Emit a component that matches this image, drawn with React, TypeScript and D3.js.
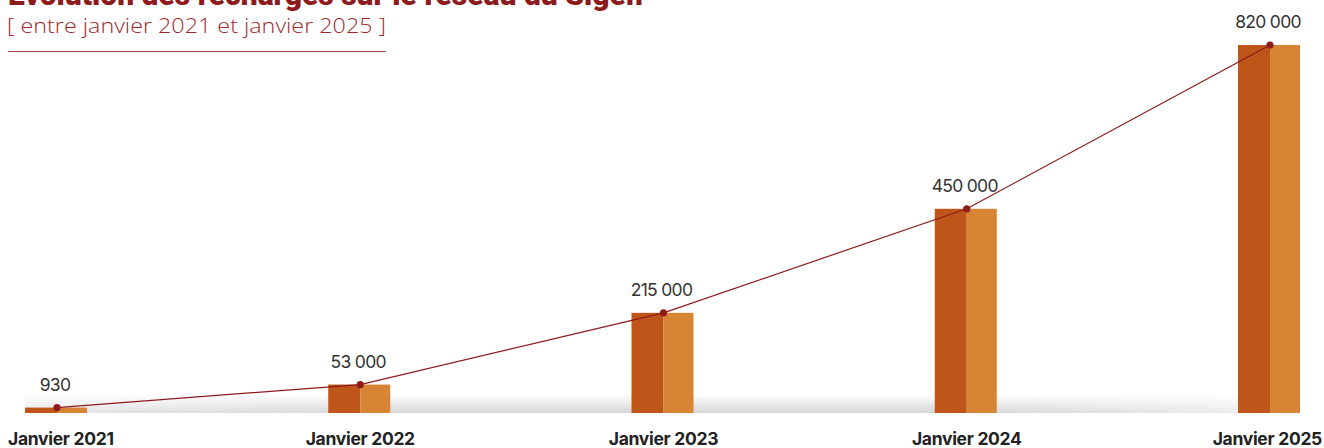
import React from "react";
import * as d3 from "d3";

const categories = ["Janvier 2021", "Janvier 2022", "Janvier 2023", "Janvier 2024", "Janvier 2025"];
const values = [930, 53000, 215000, 450000, 820000];
const valueLabels = ["930", "53 000", "215 000", "450 000", "820 000"];
const title = "Évolution des recharges sur le réseau du Sigeif";
const subtitle = "[ entre janvier 2021 et janvier 2025 ]";

const W = 1324;
const H = 448;
const baseline = 413;

export default function App() {
  const x = d3.scalePoint<string>().domain(categories).range([57, 1270]);
  const y = d3.scaleLinear().domain([0, 820000]).range([408, 45]);
  const barL = 32;
  const barR = 30;
  const pts: [number, number][] = categories.map((c, i) => [x(c) as number, y(values[i])]);
  const line = d3.line().curve(d3.curveLinear)(pts) || "";
  const red = "#8E1B1B";

  return (
    <svg width={W} height={H} style={{ position: "absolute", left: 0, top: 0, display: "block" }}>
      <defs>
        <linearGradient id="shadeV" x1="0" y1="0" x2="0" y2="1">
          <stop offset="0" stopColor="#ffffff" stopOpacity="0" />
          <stop offset="0.35" stopColor="#f4f4f4" stopOpacity="1" />
          <stop offset="1" stopColor="#d6d6d6" stopOpacity="1" />
        </linearGradient>
        <linearGradient id="maskH" x1="0" y1="0" x2="1" y2="0">
          <stop offset="0" stopColor="#fff" stopOpacity="0.6" />
          <stop offset="0.3" stopColor="#fff" stopOpacity="1" />
          <stop offset="0.75" stopColor="#fff" stopOpacity="1" />
          <stop offset="1" stopColor="#fff" stopOpacity="0.35" />
        </linearGradient>
        <mask id="fadeMask">
          <rect x={25} y={390} width={1274} height={24} fill="url(#maskH)" />
        </mask>
      </defs>
      <rect x={0} y={0} width={W} height={H} fill="#ffffff" />
      <text
        x={8}
        y={5}
        fill={red}
        fontFamily="Roboto, 'Liberation Sans', sans-serif"
        fontWeight={900}
        fontSize={29}
        textLength={637}
        lengthAdjust="spacingAndGlyphs"
      >
        {title}
      </text>
      <text
        x={7}
        y={33}
        fill="#A0282A"
        fontFamily="'Open Sans', Lato, sans-serif"
        fontWeight={300}
        fontSize={20}
        textLength={379}
        lengthAdjust="spacingAndGlyphs"
      >
        {subtitle}
      </text>
      <line x1={8} x2={386} y1={51.5} y2={51.5} stroke="#B04A4A" strokeWidth={1} />

      <rect x={25} y={392} width={1274} height={baseline - 392} fill="url(#shadeV)" mask="url(#fadeMask)" />

      {categories.map((c, i) => {
        const cx = x(c) as number;
        const top = y(values[i]);
        return (
          <g key={c}>
            <rect x={cx - barL} y={top} width={barL} height={baseline - top} fill="#BD5618" />
            <rect x={cx} y={top} width={barR} height={baseline - top} fill="#D78434" />
          </g>
        );
      })}

      <path d={line} fill="none" stroke={red} strokeWidth={1.2} />
      {pts.map((p, i) => (
        <circle key={i} cx={p[0]} cy={p[1]} r={3.6} fill={red} />
      ))}

      {categories.map((c, i) => (
        <text
          key={"v" + c}
          x={(x(c) as number) - 2}
          y={y(values[i]) - 17}
          textAnchor="middle"
          fill="#333333"
          fontFamily="Inter, 'Liberation Sans', sans-serif"
          fontSize={17.5}
          letterSpacing={-0.7}
        >
          {valueLabels[i]}
        </text>
      ))}

      {categories.map((c, i) => {
        const cx = x(c) as number;
        let anchor: "start" | "middle" | "end" = "middle";
        let tx = cx;
        if (i === 0) {
          anchor = "start";
          tx = 8;
        } else if (i === categories.length - 1) {
          anchor = "end";
          tx = 1322;
        }
        return (
          <text
            key={"c" + c}
            x={tx}
            y={445}
            textAnchor={anchor}
            fill="#222222"
            fontFamily="Inter, 'Liberation Sans', sans-serif"
            fontWeight={700}
            fontSize={17.5}
            letterSpacing={-0.3}
          >
            {c}
          </text>
        );
      })}
    </svg>
  );
}
